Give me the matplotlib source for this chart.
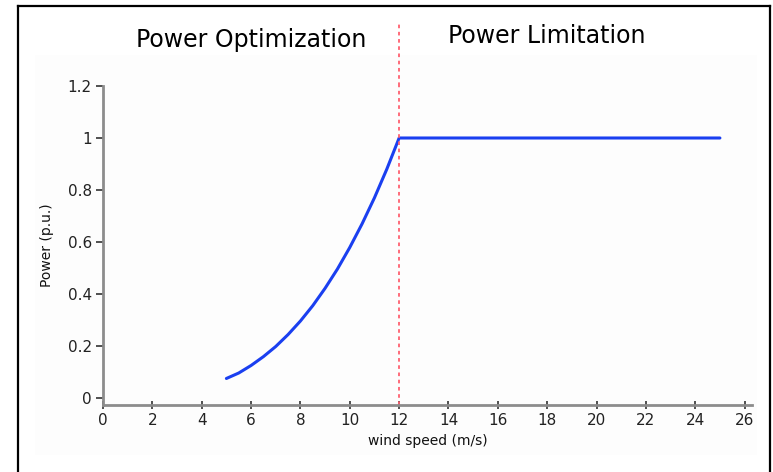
import matplotlib

matplotlib.use('Agg')
import matplotlib.pyplot as plt
from matplotlib.patches import Rectangle

# wind speed (m/s) and power (p.u.)
wind_speed = [5, 5.5, 6, 6.5, 7, 7.5, 8, 8.5, 9, 9.5, 10, 10.5, 11, 11.5, 12, 25]
power = [0.075, 0.096, 0.125, 0.159, 0.198, 0.244, 0.296, 0.355, 0.422,
         0.496, 0.579, 0.670, 0.770, 0.880, 1.0, 1.0]
rated_speed = 12
x_ticks = list(range(0, 27, 2))
y_ticks = [0, 0.2, 0.4, 0.6, 0.8, 1, 1.2]
y_tick_labels = ['0', '0.2', '0.4', '0.6', '0.8', '1', '1.2']
region_labels = ['Power Optimization', 'Power Limitation']

fig = plt.figure(figsize=(7.73, 4.72), dpi=100)
fig.patch.set_facecolor('white')

# outer black frame (open at the bottom)
W, H = 773, 472
fig.add_artist(plt.Line2D([18 / W, 18 / W], [0, 1 - 6 / H], color='black', lw=1.6))
fig.add_artist(plt.Line2D([18 / W, 770 / W], [1 - 6 / H, 1 - 6 / H], color='black', lw=1.6))
fig.add_artist(plt.Line2D([770 / W, 770 / W], [0, 1 - 6 / H], color='black', lw=1.6))
fig.add_artist(Rectangle((35 / W, 1 - 455 / H), 722 / W, 400 / H,
                         facecolor='#fdfdfd', edgecolor='none', zorder=-1))

# axes placement in pixels: x 0..26.3 -> 103..752, y -0.027..1.2 -> 405..86
left, right, top, bottom = 103, 752, 86, 405
ax = fig.add_axes([left / W, 1 - bottom / H, (right - left) / W, (bottom - top) / H])
ax.set_facecolor('none')

ax.plot(wind_speed, power, color='#1a3ff0', lw=2.2, solid_capstyle='round')
ax.axvline(rated_speed, color='#ff6070', lw=1.3, linestyle=(0, (2, 2)))

ax.set_xlim(0, 26.3)
ax.set_ylim(-0.027, 1.2)
ax.set_xticks(x_ticks)
ax.set_yticks(y_ticks)
ax.set_yticklabels(y_tick_labels)

for side in ['top', 'right']:
    ax.spines[side].set_visible(False)
for side in ['left', 'bottom']:
    ax.spines[side].set_color('#8c8c8c')
    ax.spines[side].set_linewidth(2)

ax.tick_params(axis='y', direction='out', length=5, width=1.2, color='#333333',
               labelsize=11, labelcolor='#222222', pad=3)
ax.tick_params(axis='x', direction='inout', length=6, width=1.2, color='#333333',
               labelsize=11, labelcolor='#222222', pad=3)

ax.set_xlabel('wind speed (m/s)', fontsize=10, labelpad=4, color='#111111')
ax.set_ylabel('Power (p.u.)', fontsize=10, labelpad=10, color='#111111')

fig.text(251 / W, 1 - 40 / H, region_labels[0], fontsize=17, ha='center', va='center')
fig.text(547 / W, 1 - 36 / H, region_labels[1], fontsize=17, ha='center', va='center')
ax.axvline(rated_speed, ymin=1, ymax=1.2, color='#ff6070', lw=1.3,
           linestyle=(0, (2, 2)), clip_on=False)

fig.savefig('out.png', dpi=100)
